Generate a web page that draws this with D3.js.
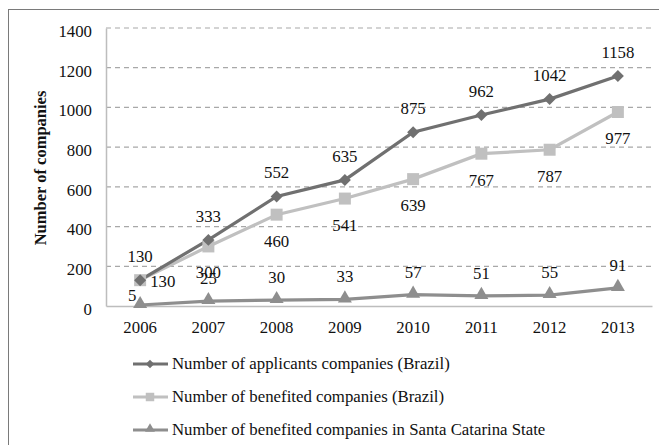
<!DOCTYPE html>
<html><head><meta charset="utf-8">
<script src="https://cdn.jsdelivr.net/npm/d3@7"></script>
<style>body{margin:0;background:#fff;}</style>
</head><body>
<svg id="c" width="659" height="445"></svg>
<script>
const years = ["2006","2007","2008","2009","2010","2011","2012","2013"];
const applicants = [130,333,552,635,875,962,1042,1158];
const benefited = [130,300,460,541,639,767,787,977];
const santaCatarina = [5,25,30,33,57,51,55,91];
const yTicks = [0,200,400,600,800,1000,1200,1400];
const seriesNames = ["Number of applicants companies (Brazil)","Number of benefited companies (Brazil)","Number of benefited companies in  Santa Catarina State"];

(function(){
const svg = d3.select("#c");
const W=659,H=445, FS=16.8;
svg.append("rect").attr("width",W).attr("height",H).attr("fill","#fff");
svg.append("rect").attr("x",8.5).attr("y",9.5).attr("width",720).attr("height",520).attr("fill","none").attr("stroke","#7a7a7a").attr("stroke-width",1);

const pl=106, pr=652, pt=28, pb=306;
const x = d3.scaleBand().domain(years).range([pl,pr]);
const y = d3.scaleLinear().domain([0,1400]).range([pb,pt]);
const cx = d => x(d)+x.bandwidth()/2;

svg.append("g").selectAll("line").data(yTicks.filter(t=>t>0)).join("line")
 .attr("x1",pl).attr("x2",pr).attr("y1",d=>y(d)).attr("y2",d=>y(d))
 .attr("stroke","#a8a8a8").attr("stroke-width",1.2).attr("stroke-dasharray","5,4");

const ya = svg.append("g").attr("transform",`translate(${pl},0)`).call(d3.axisLeft(y).tickValues(yTicks).tickSize(0).tickPadding(14).tickFormat(d3.format("d")));
const xa = svg.append("g").attr("transform",`translate(0,${pb})`).call(d3.axisBottom(x).tickSize(0).tickPadding(12));
[ya,xa].forEach(a=>{a.select(".domain").attr("stroke","#bdbdbd").attr("stroke-width",1.5);
 a.selectAll("text").attr("font-size",FS).attr("fill","#111");});
ya.selectAll("text").attr("dy","0.5em");
xa.selectAll("text").attr("dy","0.9em");

svg.append("text").attr("transform","translate(46,168) rotate(-90)").attr("text-anchor","middle")
 .attr("font-size",16.5).attr("font-weight","bold").attr("fill","#111").text("Number of companies");

const cols = ["#707070","#c0c0c0","#8e8e8e"];
const series = [applicants,benefited,santaCatarina];
const shapes = [d3.symbolSquare, d3.symbolSquare, d3.symbolTriangle];
const rots = [45,0,0];
const sizes = [72,144,85];

[1,0,2].forEach(si=>{
  const vals = series[si];
  const line = d3.line().x((d,i)=>cx(years[i])).y(d=>y(d));
  svg.append("path").datum(vals).attr("d",line).attr("fill","none").attr("stroke",cols[si]).attr("stroke-width",3.2);
});
[1,0,2].forEach(si=>{
  const vals = series[si];
  svg.append("g").selectAll("path").data(vals).join("path")
   .attr("transform",(d,i)=>`translate(${cx(years[i])},${y(d)+(si==2?-1:0)}) rotate(${rots[si]})`)
   .attr("d",d3.symbol().type(shapes[si]).size(sizes[si])).attr("fill",cols[si]);
});

const lab = svg.append("g").attr("font-size",FS).attr("fill","#111").attr("text-anchor","middle");
applicants.forEach((v,i)=>lab.append("text").attr("x",cx(years[i])).attr("y",y(v)-18).text(v));
benefited.forEach((v,i)=>{
  if(i===0) lab.append("text").attr("x",cx(years[i])+10).attr("y",y(v)+7).attr("text-anchor","start").text(v);
  else lab.append("text").attr("x",cx(years[i])).attr("y",y(v)+32).text(v);
});
santaCatarina.forEach((v,i)=>{
  if(i===0) lab.append("text").attr("x",cx(years[i])-8).attr("y",y(v)-4).text(v);
  else lab.append("text").attr("x",cx(years[i])).attr("y",y(v)-17).text(v);
});

const lg = svg.append("g");
const ly = [364,397,430];
series.forEach((s,si)=>{
  lg.append("line").attr("x1",133).attr("x2",168).attr("y1",ly[si]).attr("y2",ly[si]).attr("stroke",cols[si]).attr("stroke-width",3.2);
  lg.append("path").attr("transform",`translate(150,${ly[si]-(si==2?1:0)}) rotate(${rots[si]})`).attr("d",d3.symbol().type(shapes[si]).size(sizes[si]*0.5)).attr("fill",cols[si]);
  lg.append("text").attr("x",172).attr("y",ly[si]+5).attr("font-size",FS).attr("fill","#111").text(seriesNames[si]);
});
svg.selectAll("text").style("font-family","'Liberation Serif'");
})();
</script>
</body></html>
